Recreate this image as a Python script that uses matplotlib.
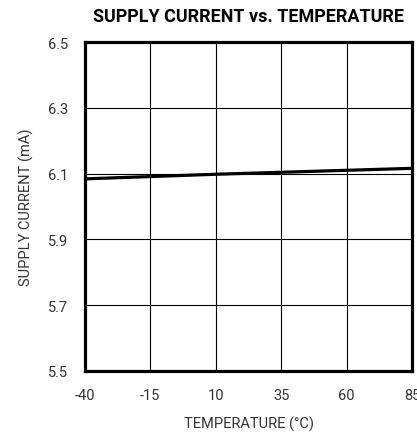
import matplotlib.pyplot as plt

# temperature (C) and supply current (mA)
temp = [-40, -15, 10, 35, 60, 85]
current = [6.084, 6.091, 6.098, 6.104, 6.110, 6.116]

x_ticks = [-40, -15, 10, 35, 60, 85]
y_ticks = [5.5, 5.7, 5.9, 6.1, 6.3, 6.5]

plt.rcParams['font.family'] = ['Roboto', 'DejaVu Sans']
plt.rcParams['axes.unicode_minus'] = False

fig = plt.figure(figsize=(4.17, 4.39), dpi=100)
ax = fig.add_axes([85/417, 67/439, 327/417, 329/439])

ax.plot(temp, current, color='black', lw=2.3, zorder=3)

ax.set_xlim(-40, 85)
ax.set_ylim(5.5, 6.5)
ax.set_xticks(x_ticks)
ax.set_yticks(y_ticks)
ax.set_yticklabels(['%.1f' % v for v in y_ticks])
ax.grid(color='black', lw=0.8)
ax.tick_params(length=0, labelsize=10.5, colors='#333333')
ax.tick_params(axis='x', pad=12)
ax.tick_params(axis='y', pad=12)
for s in ax.spines.values():
    s.set_linewidth(2.3)
    s.set_zorder(4)

ax.set_xlabel('TEMPERATURE (°C)', fontsize=10.5, color='#333333', labelpad=10)
ax.set_ylabel('SUPPLY CURRENT (mA)', fontsize=10.5, color='#333333', labelpad=10)
ax.set_title('SUPPLY CURRENT vs. TEMPERATURE', fontsize=13, fontweight='bold', pad=15)

fig.savefig('out.png', dpi=100)
